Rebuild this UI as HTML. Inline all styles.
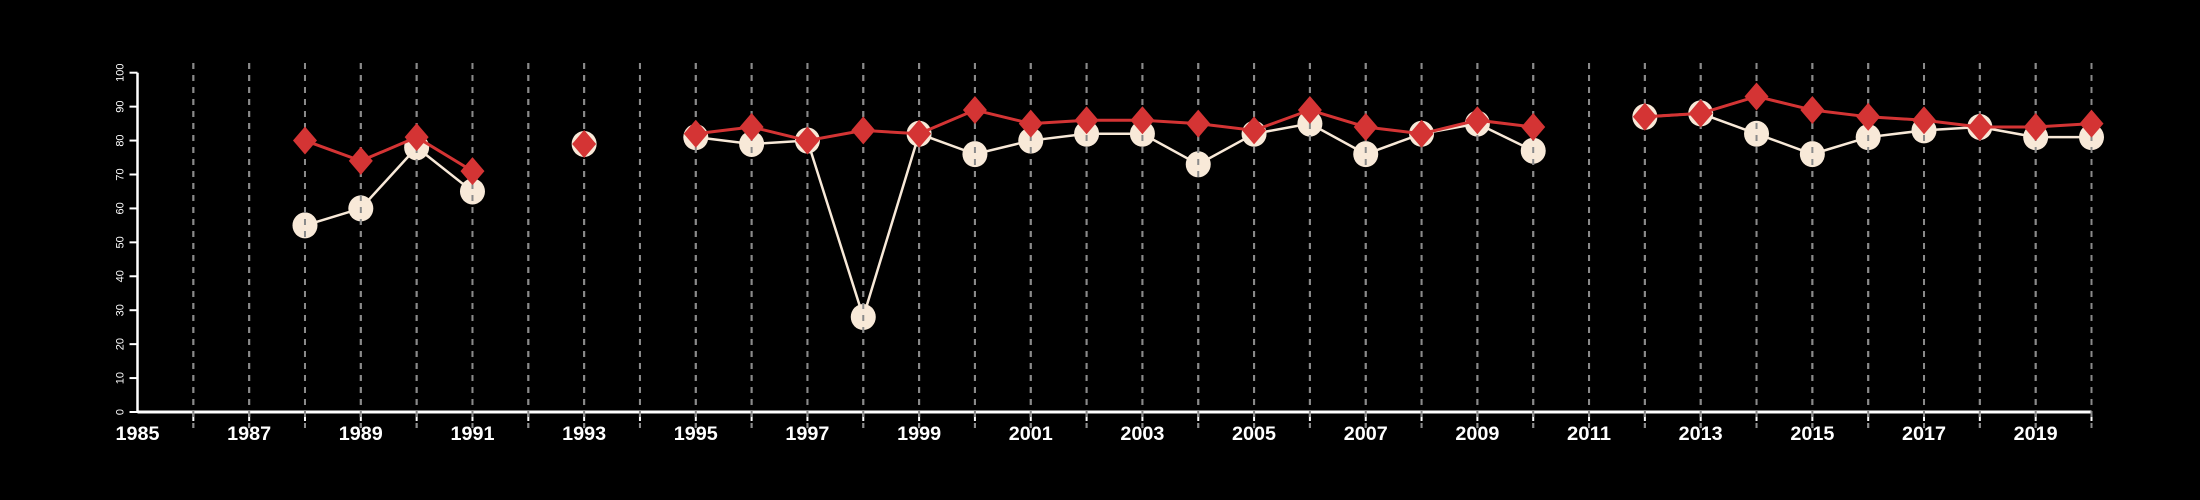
<!DOCTYPE html>
<html><head><meta charset="utf-8"><style>
html,body{margin:0;padding:0;background:#000;}
svg{display:block;}
text{font-family:"Liberation Sans",sans-serif;fill:#fff;}
</style></head><body>
<svg id="chart" width="2200" height="500" viewBox="0 0 2200 500" xmlns="http://www.w3.org/2000/svg">
<rect width="2200" height="500" fill="#000"/>
<g id="gridG"></g>
<g id="axesG"></g>
<g id="seriesA"></g>
<g id="gridTop"></g>
<g id="seriesB"></g>
</svg>
<script>
const years = [1988,1989,1990,1991,1993,1995,1996,1997,1998,1999,2000,2001,2002,2003,2004,2005,2006,2007,2008,2009,2010,2012,2013,2014,2015,2016,2017,2018,2019,2020];
const seriesA = [55,60,78,65,79,81,79,80,28,82,76,80,82,82,73,82,85,76,82,85,77,87,88,82,76,81,83,84,81,81];
const seriesB = [80,74,81,71,79,82,84,80,83,82,89,85,86,86,85,83,89,84,82,86,84,87,88,93,89,87,86,84,84,85];
const yTicks = [0,10,20,30,40,50,60,70,80,90,100];
const xLabels = [1985,1987,1989,1991,1993,1995,1997,1999,2001,2003,2005,2007,2009,2011,2013,2015,2017,2019];

const NS="http://www.w3.org/2000/svg";
const X0=137.5,X1=2091.5,Y0=412,Y1=72.7;
const xS=y=>X0+(y-1985)*(X1-X0)/35;
const yS=v=>Y0-(v)*(Y0-Y1)/100;
function mk(tag,attrs,parent){const e=document.createElementNS(NS,tag);for(const k in attrs)e.setAttribute(k,attrs[k]);parent.appendChild(e);return e;}

const grid=document.getElementById('gridG'), gridTop=document.getElementById('gridTop'), axes=document.getElementById('axesG');
for(let yr=1986;yr<=2020;yr++){
  const x=xS(yr);
  [grid,gridTop].forEach(g=>{
    const l=mk('line',{x1:x,x2:x,y1:63,y2:428,stroke:'#8a8a8a','stroke-width':2,'stroke-dasharray':'6,6'},g);
    
    
  });
  const t=mk('line',{x1:x,x2:x,y1:Y0,y2:Y0+9,stroke:'#fff','stroke-width':2},axes);
  
  
}
const xa=mk('line',{x1:X0,x2:X1,y1:Y0,y2:Y0,stroke:'#fff','stroke-width':3},axes);


const ya=mk('line',{x1:X0,x2:X0,y1:Y0,y2:Y1,stroke:'#fff','stroke-width':2.5},axes);


yTicks.forEach(v=>{
  const y=yS(v);
  const t=mk('line',{x1:X0-8,x2:X0,y1:y,y2:y,stroke:'#fff','stroke-width':2},axes);
  
  
  const tx=mk('text',{x:0,y:0,transform:`translate(${X0-14},${y}) rotate(-90)`,'text-anchor':'middle','font-size':11},axes);
  tx.textContent=v;
  
  
});
xLabels.forEach(v=>{
  const tx=mk('text',{x:xS(v),y:440,'text-anchor':'middle','font-size':19,'font-weight':'bold',textLength:44,lengthAdjust:'spacingAndGlyphs'},axes);
  tx.textContent=v;
  
  
});

function segments(){const segs=[];let cur=[];years.forEach((y,i)=>{if(i>0&&y-years[i-1]>1){segs.push(cur);cur=[];}cur.push(i);});segs.push(cur);return segs;}
function drawSeries(g,vals,color,w,marker){
  segments().forEach(s=>{
    if(s.length<2)return;
    const p=mk('polyline',{points:s.map(i=>xS(years[i])+','+yS(vals[i])).join(' '),fill:'none',stroke:color,'stroke-width':w},g);
    
    
  });
  years.forEach((yr,i)=>{
    const x=xS(yr),y=yS(vals[i]);
    let m;
    if(marker==='circle'){m=mk('ellipse',{cx:x,cy:y,rx:12.5,ry:13,fill:'#f8e9d8'},g);}
    else{m=mk('polygon',{points:`${x},${y-14} ${x+12},${y} ${x},${y+14} ${x-12},${y}`,fill:'#d43434'},g);}
    
    
  });
}
drawSeries(document.getElementById('seriesA'),seriesA,'#f8e9d8',2.5,'circle');
drawSeries(document.getElementById('seriesB'),seriesB,'#d43434',3,'diamond');
</script>
</body></html>
